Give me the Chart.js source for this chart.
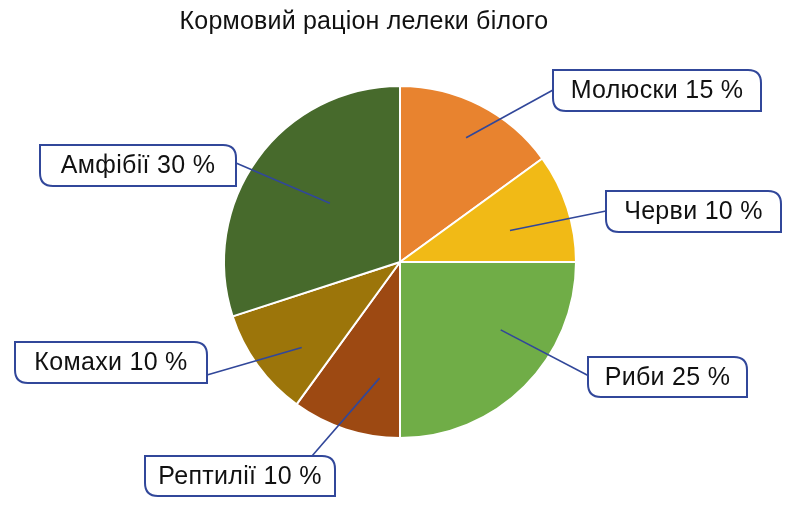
<!DOCTYPE html>
<html>
<head>
<meta charset="utf-8">
<script src="https://cdn.jsdelivr.net/npm/chart.js@4.4.1/dist/chart.umd.min.js"></script>
<style>
html,body{margin:0;padding:0;background:#fff;}
#wrap{width:800px;height:508px;position:relative;}
</style>
</head>
<body>
<div id="wrap"><canvas id="c" width="800" height="508"></canvas></div>
<script>
const title = 'Кормовий раціон лелеки білого';
const categories = ['Молюски', 'Черви', 'Риби', 'Рептилії', 'Комахи', 'Амфібії'];
const values = [15, 10, 25, 10, 10, 30];
const colors = ['#E8832F', '#F1BA16', '#70AD47', '#9D4912', '#9C750A', '#476A2C'];

// callout layout: box (x,y,w,h), attach point on box, anchor inside slice (angle deg from top, radius fraction)
const callouts = [
  {box:[553,70,208,41], attach:[553,90], a:28, r:0.80},
  {box:[606,191,175,41], attach:[606,211], a:74, r:0.65},
  {box:[588,357,159,40], attach:[589,376], a:124, r:0.69},
  {box:[145,456,190,40], attach:[312,456], a:190, r:0.67},
  {box:[15,342,192,41], attach:[207,375], a:229, r:0.74},
  {box:[40,145,196,41], attach:[236,163], a:310, r:0.52}
];

const calloutPlugin = {
  id: 'callouts',
  afterDraw(chart) {
    const ctx = chart.ctx;
    const meta = chart.getDatasetMeta(0);
    const arc0 = meta.data[0];
    const cx = arc0.x, cy = arc0.y, R = arc0.outerRadius;
    ctx.save();
    // title
    ctx.fillStyle = '#111';
    ctx.font = '25px "Liberation Sans", Arial, sans-serif';
    try { ctx.letterSpacing = '0.2px'; } catch(e) {}
    ctx.textAlign = 'center';
    ctx.textBaseline = 'alphabetic';
    ctx.fillText(title, 364, 29);
    callouts.forEach((c, i) => {
      const ang = c.a * Math.PI / 180;
      const px = cx + Math.sin(ang) * R * c.r;
      const py = cy - Math.cos(ang) * R * c.r;
      ctx.strokeStyle = '#31479A';
      ctx.lineWidth = 1.6;
      ctx.beginPath();
      ctx.moveTo(c.attach[0], c.attach[1]);
      ctx.lineTo(px, py);
      ctx.stroke();
      const [x, y, w, h] = c.box;
      const rr = 13;
      ctx.beginPath();
      ctx.moveTo(x, y);
      ctx.lineTo(x + w - rr, y);
      ctx.quadraticCurveTo(x + w, y, x + w, y + rr);
      ctx.lineTo(x + w, y + h);
      ctx.lineTo(x + rr, y + h);
      ctx.quadraticCurveTo(x, y + h, x, y + h - rr);
      ctx.closePath();
      ctx.fillStyle = '#fff';
      ctx.fill();
      ctx.lineWidth = 2;
      ctx.stroke();
      ctx.fillStyle = '#111';
      ctx.font = '25px "Liberation Sans", Arial, sans-serif';
      try { ctx.letterSpacing = '0.3px'; } catch(e) {}
      ctx.textAlign = 'center';
      ctx.textBaseline = 'middle';
      ctx.fillText(categories[i] + ' ' + values[i] + ' %', x + w / 2, y + h / 2 + 1);
    });
    ctx.restore();
  }
};

new Chart(document.getElementById('c'), {
  type: 'pie',
  data: {
    labels: categories,
    datasets: [{
      data: values,
      backgroundColor: colors,
      borderColor: '#FFFFFF',
      borderWidth: 2
    }]
  },
  options: {
    responsive: false,
    animation: false,
    layout: { padding: { top: 85, bottom: 69, left: 0, right: 0 } },
    plugins: {
      legend: { display: false },
      tooltip: { enabled: false },
      title: { display: false }
    }
  },
  plugins: [calloutPlugin]
});
</script>
</body>
</html>
